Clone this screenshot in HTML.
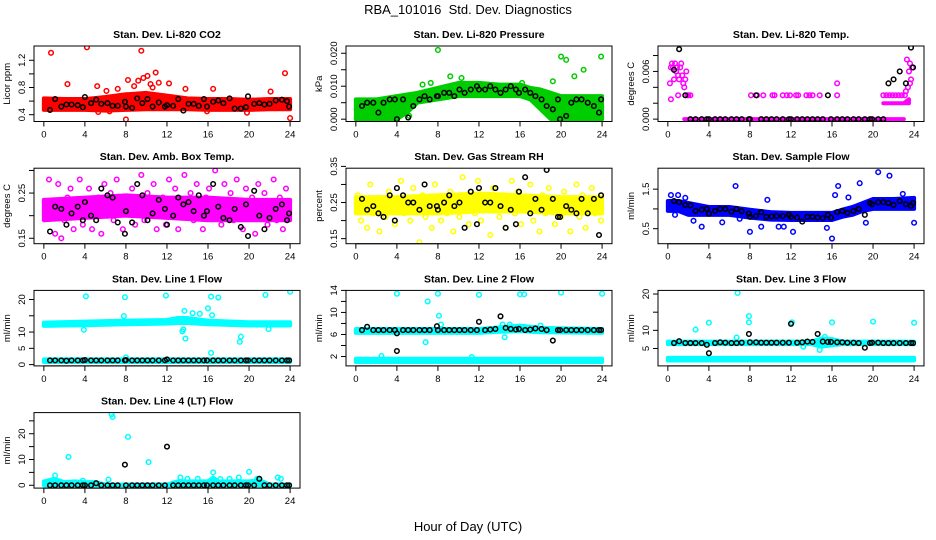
<!DOCTYPE html>
<html><head><meta charset="utf-8">
<style>
body{margin:0;background:#fff;}
svg{display:block;font-family:"Liberation Sans",sans-serif;}
</style></head>
<body>
<svg id="chart" width="936" height="540" viewBox="0 0 936 540" xmlns="http://www.w3.org/2000/svg">
<text x="468" y="14" text-anchor="middle" font-size="13">RBA_101016&#160; Std. Dev. Diagnostics</text>
<text x="468" y="531" text-anchor="middle" font-size="13">Hour of Day (UTC)</text>
</svg>
<script>
// shared hour stamps for black (hourly-average) points
const bx=[0.6,1.1,1.7,2.2,2.7,3.3,3.8,4.0,4.6,5.1,5.6,6.2,6.7,7.2,7.9,8.0,8.6,9.1,9.6,10.1,10.6,11.2,11.8,12.0,12.6,13.1,13.6,14.1,14.6,15.1,15.6,15.9,16.5,17.0,17.5,18.1,18.6,19.2,19.7,19.9,20.5,21.0,21.5,22.0,22.6,23.2,23.7,23.9];
const xTicks=[0,4,8,12,16,20,24];
const sx=[0.2,0.5,0.8,1.1,1.4,1.7,2.0,2.3,2.6,2.9,3.2,3.5,3.8,4.1,4.4,4.7,5.0,5.3,5.6,5.9,6.2,6.5,6.8,7.1,7.4,7.7,8.0,8.3,8.6,8.9,9.2,9.5,9.8,10.1,10.4,10.7,11.0,11.3,11.6,11.9,12.2,12.5,12.8,13.1,13.4,13.7,14.0,14.3,14.6,14.9,15.2,15.5,15.8,16.1,16.4,16.7,17.0,17.3,17.6,17.9,18.2,18.5,18.8,19.1,19.4,19.7,20.0,20.3,20.6,20.9,21.2,21.5,21.8,22.1,22.4,22.7,23.0,23.3,23.6,23.9];

// CO2
const co2BandH=[0,2,4,6,8,10,12,14,16,18,20,22,24];
const co2Lo=[0.47,0.47,0.47,0.46,0.47,0.48,0.48,0.48,0.47,0.47,0.47,0.48,0.48];
const co2Hi=[0.64,0.63,0.63,0.66,0.70,0.72,0.68,0.64,0.63,0.63,0.62,0.63,0.63];
const co2OX=[0.7,4.2,9.5,10.9,23.5,8,24,2.3,8.2,9.2,9.7,10.1,11.2,12.2,13.8,16.5,5.2,6.1,7.2,22.1,19.8,15.9,10.6,8.8,10.4,6.4,5.3];
const co2OY=[1.31,1.39,1.34,1.02,1.01,0.33,0.35,0.85,0.91,0.9,0.94,0.97,0.87,0.86,0.78,0.78,0.82,0.75,0.78,0.74,0.43,0.45,0.8,0.82,0.85,0.45,0.44];
const co2K=[0.47,0.63,0.52,0.55,0.55,0.54,0.51,0.66,0.57,0.62,0.56,0.57,0.53,0.53,0.59,0.52,0.50,0.64,0.57,0.63,0.52,0.58,0.52,0.54,0.53,0.63,0.46,0.56,0.56,0.53,0.63,0.52,0.59,0.61,0.57,0.64,0.49,0.49,0.51,0.67,0.56,0.57,0.55,0.56,0.61,0.62,0.60,0.52];

// Pressure
const prBandH=[0,2,4,5,6,8,10,12,14,16,17,18,19,20,22,24];
const prLo=[0,0,0,0.002,0.005,0.006,0.007,0.007,0.007,0.007,0.006,0.003,0,0,0,0];
const prHi=[0.006,0.006,0.007,0.0075,0.008,0.0095,0.011,0.011,0.0105,0.0105,0.0095,0.009,0.008,0.007,0.007,0.007];
const prOX=[8,20,20.5,23.9,22.2,21.3,19.2,9.2,10.3,6.5,7.3,16.2,3.2,5.2,1.3,22.8];
const prOY=[0.021,0.019,0.018,0.019,0.015,0.013,0.0115,0.013,0.0125,0.0105,0.011,0.011,0.003,0.001,0.002,0.003];
const prK=[0.004,0.005,0.005,0.002,0.005,0.006,0.006,0.000,0.006,0.0005,0.004,0.006,0.007,0.006,0.007,0.007,0.008,0.008,0.007,0.009,0.008,0.009,0.010,0.009,0.009,0.010,0.009,0.008,0.009,0.010,0.009,0.008,0.009,0.008,0.007,0.006,0.004,0.003,0.006,0.000,0.001,0.005,0.006,0.006,0.005,0.004,0.002,0.006];

// Temp
const tpBandH=[1.6,23.0];
const tpLo=[0,0];
const tpHi=[0,0];
const tpBand2H=[21,22,23,23.5];
const tpLo2=[0.002,0.002,0.002,0.002];
const tpHi2=[0.002,0.002,0.002,0.0025];
const tpOX=[0.2,0.3,0.4,0.5,0.6,0.7,0.8,0.9,1.0,1.1,1.2,1.3,1.4,1.5,1.6,1.7,1.8,1.9,0.3,1.0,2.0,2.2,8.1,8.7,9.3,10.2,10.4,11.2,11.6,11.9,12.5,12.7,13.5,13.8,14.1,14.8,16.5,16.5,23.3,23.6,21.0,21.3,21.6,21.9,22.2,22.5,22.8,23.1,23.4,23.7,23.5,23.8,23.2,23.6];
const tpOY=[0.0045,0.0065,0.007,0.0065,0.005,0.007,0.006,0.0065,0.0055,0.005,0.0065,0.007,0.0055,0.0045,0.004,0.005,0.006,0.003,0.0025,0.003,0.003,0.003,0.003,0.003,0.003,0.003,0.003,0.003,0.003,0.003,0.003,0.003,0.003,0.003,0.003,0.003,0.0045,0.003,0.0075,0.007,0.003,0.003,0.003,0.003,0.003,0.003,0.003,0.003,0.004,0.005,0.006,0.0065,0.0035,0.0045];
const tpK=[0.0062,0.0088,0.003,0,0,0,0,0,0,0,0,0,0,0,0,0,0.003,0,0,0,0,0,0,0,0,0,0,0,0,0,0.003,0,0,0,0,0,0,0,0,0,0,0,0.0045,0.005,0.006,0.0045,0.009,0.0065];

// Amb box temp
const amBandH=[0,4,8,12,16,20,24];
const amLo=[0.19,0.195,0.2,0.195,0.19,0.19,0.19];
const amHi=[0.235,0.24,0.245,0.24,0.24,0.235,0.235];
const amY=[0.2,0.28,0.23,0.16,0.27,0.15,0.19,0.24,0.26,0.17,0.22,0.28,0.18,0.23,0.26,0.17,0.21,0.24,0.16,0.27,0.2,0.25,0.19,0.28,0.22,0.17,0.24,0.21,0.26,0.18,0.23,0.29,0.19,0.25,0.2,0.27,0.17,0.22,0.24,0.18,0.28,0.21,0.26,0.17,0.23,0.29,0.2,0.25,0.19,0.27,0.22,0.17,0.24,0.26,0.2,0.3,0.23,0.18,0.27,0.21,0.25,0.19,0.28,0.22,0.17,0.26,0.2,0.24,0.16,0.27,0.21,0.25,0.18,0.23,0.28,0.19,0.24,0.17,0.26,0.21];
const amK=[0.165,0.22,0.215,0.18,0.205,0.22,0.19,0.23,0.2,0.19,0.26,0.245,0.24,0.185,0.16,0.21,0.185,0.27,0.245,0.19,0.205,0.235,0.215,0.18,0.2,0.24,0.225,0.23,0.21,0.245,0.2,0.21,0.27,0.22,0.195,0.19,0.215,0.175,0.225,0.155,0.255,0.2,0.17,0.195,0.215,0.225,0.19,0.205];

// RH
const rhBandH=[0,4,8,12,16,20,24];
const rhLo=[0.22,0.22,0.22,0.225,0.225,0.22,0.22];
const rhHi=[0.265,0.265,0.27,0.275,0.27,0.265,0.265];
const rhY=[0.27,0.2,0.24,0.18,0.3,0.22,0.26,0.17,0.25,0.21,0.28,0.23,0.19,0.26,0.31,0.22,0.25,0.2,0.29,0.24,0.14,0.27,0.21,0.25,0.18,0.3,0.23,0.2,0.26,0.22,0.28,0.17,0.25,0.21,0.32,0.24,0.19,0.27,0.22,0.31,0.2,0.26,0.23,0.16,0.29,0.24,0.21,0.27,0.18,0.25,0.31,0.22,0.28,0.19,0.26,0.23,0.3,0.2,0.25,0.17,0.27,0.22,0.29,0.24,0.19,0.26,0.21,0.28,0.23,0.17,0.25,0.3,0.21,0.27,0.18,0.24,0.29,0.22,0.26,0.2];
const rhK=[0.26,0.23,0.24,0.22,0.21,0.27,0.20,0.29,0.27,0.25,0.25,0.23,0.30,0.24,0.24,0.23,0.25,0.27,0.24,0.25,0.18,0.28,0.19,0.29,0.25,0.25,0.29,0.24,0.18,0.23,0.19,0.28,0.32,0.22,0.26,0.23,0.34,0.26,0.21,0.21,0.24,0.23,0.22,0.26,0.22,0.26,0.16,0.27];

// Sample flow
const sfBandH=[0,1,2,4,6,8,10,12,14,16,17,18,19,20,22,24];
const sfLo=[0.95,0.95,0.85,0.85,0.85,0.78,0.73,0.72,0.72,0.72,0.8,0.85,0.95,1.0,1.0,1.0];
const sfHi=[1.2,1.2,1.15,1.05,1.05,0.98,0.92,0.90,0.90,0.90,0.98,1.05,1.15,1.25,1.25,1.28];
const sfOX=[6.6,8,9.7,12.2,16,16.6,16.3,17.6,18.7,20.5,21.6,24,3.3,5.3,9.1,11.3,10.8,15.5,19.3,0.3,1.0,1.7,22.9,0.7,2.5,7.0];
const sfOY=[1.58,0.42,1.23,0.42,0.25,1.58,1.35,1.29,1.65,1.93,1.84,0.65,0.55,0.66,0.55,0.55,0.55,0.52,0.65,1.35,1.35,1.28,1.38,0.85,0.7,0.75];
const sfK=[1.2,1.17,1.1,1.09,0.95,0.98,1.0,0.88,0.95,1.0,1.0,0.93,1.0,0.94,0.88,0.80,0.82,0.92,0.80,0.81,0.82,0.82,0.85,0.80,0.78,0.68,0.80,0.80,0.78,0.77,0.85,0.78,0.92,0.95,0.90,0.95,1.0,0.85,1.15,1.12,1.17,1.17,1.15,1.10,1.20,1.12,1.08,1.15];

// Line 1
const l1BandH=[0,4,8,12,13,14,16,20,24];
const l1Lo=[11.9,12.1,12.4,12.6,12.8,12.8,12.4,12.0,12.0];
const l1Hi=[12.9,13.2,13.5,13.7,14.3,14.3,13.5,13.0,13.0];
const l1Band2H=[0,24];
const l1Lo2=[0.8,0.8];
const l1Hi2=[1.6,1.6];
const l1OX=[4.1,7.9,11.9,16.3,17.0,21.6,24,3.9,13.5,13.6,13.8,13.7,14.5,15.2,16.0,16.4,19.2,19.1,21.9,16.3,7.8,8];
const l1OY=[21,20.7,21.2,20.9,20.6,21.4,22.4,10.7,10.2,10.8,8.0,16.5,15.8,15.6,17.3,15.2,8.6,7.0,10.9,3.6,14.9,2.2];
const l1K=[1.3,1.3,1.3,1.2,1.3,1.3,1.3,1.4,1.3,1.3,1.3,1.3,1.3,1.3,1.3,1.4,1.3,1.3,1.3,1.3,1.3,1.3,1.3,1.6,1.3,1.3,1.3,1.3,1.3,1.3,1.3,1.3,1.3,1.3,1.3,1.3,1.3,1.3,1.3,1.3,1.3,1.3,1.3,1.3,1.3,1.3,1.3,1.3];

// Line 2
const l2BandH=[0,12,14,16,18,24];
const l2Lo=[6.3,6.3,6.5,6.6,6.4,6.3];
const l2Hi=[7.0,7.0,7.3,7.6,7.2,7.0];
const l2Band2H=[0,24];
const l2Lo2=[1.0,1.0];
const l2Hi2=[1.6,1.6];
const l2OX=[4,8,12,16,16.4,20,24,7,8.1,8.3,6.8,14.5,14.3,15.0,18.0,2.5,11.3];
const l2OY=[13.4,13.4,13.2,13.3,13.3,13.6,13.4,12.0,9.4,7.8,4.6,5.5,7.8,7.8,7.6,2.1,1.9];
const l2K=[6.8,7.4,6.8,6.8,6.8,6.8,6.8,6.2,6.8,6.8,6.8,6.8,6.8,6.8,7.5,6.8,6.8,6.8,6.8,6.8,6.8,6.8,6.8,8.3,6.8,6.9,7.0,9.3,7.2,7.0,6.9,7.0,6.8,6.9,7.1,7.0,6.8,4.9,6.8,6.8,6.8,6.8,6.8,6.8,6.8,6.8,6.8,6.8];

// Line 3
const l3BandH=[0,14,15,16,17,24];
const l3Lo=[6.2,6.2,5.5,5.9,6.2,6.2];
const l3Hi=[6.9,6.9,7.8,7.6,6.9,6.9];
const l3Band2H=[0,24];
const l3Lo2=[1.7,1.7];
const l3Hi2=[2.4,2.4];
const l3OX=[6.8,7.9,7.9,4,2.7,12.1,16,20,24,6.7,15.3,14.8,13.2];
const l3OY=[20.3,13.9,12.2,12.1,10.2,12.2,12.2,12.4,12.1,8.0,8.2,4.6,5.5];
const l3K=[6.5,7.0,6.5,6.5,6.5,6.5,6.0,3.7,6.5,6.7,6.6,6.5,6.5,6.6,9.0,6.7,6.7,6.6,6.6,6.6,6.6,6.6,6.6,11.8,6.6,6.7,6.9,6.8,9.0,6.9,6.8,6.8,6.7,6.7,6.6,6.6,6.5,5.2,6.5,6.6,6.6,6.5,6.5,6.5,6.5,6.5,6.5,6.5];

// Line 4
const l4BandH=[0,1,2,3,4,5,6,12,13,14,16,16.5,17,20,21,22,24];
const l4Lo=[0,0,0,0,0,0,0,0,0,0,0,0,0,0,0,0,0];
const l4Hi=[1.5,2.5,1.2,1.5,1.2,1.2,0.3,0.3,1.5,1.5,1.5,3,1.5,1.5,2,0.3,0.3];
const l4OX=[6.6,6.7,8.2,2.4,10.2,16.5,20,1.1,13.3,14,15,17.2,18.1,19,22.8,23.1,6.3,3.8,20.8];
const l4OY=[27.5,26.5,18.8,11,9,5,5.2,3.8,3,2.5,2.5,2.4,2.5,3,3,2.5,2.2,1.8,2.5];
const l4K=[0,0,0,0,0,0,0,0,0,0.8,0,0,0,0,8,0,0,0,0,0,0,0,0,15,0,0,0,0,0,0,0,0,0,0,0,0,0,0,0,0,0,2.5,0,0,0,0,0,0];

const panels=[
 {name:'co2',title:'Stan. Dev. Li-820 CO2',ylab:'Licor ppm',col:0,row:0,ylim:[0.30,1.41],ticks:[0.4,0.6,0.8,1.0,1.2],labels:['0.4','','0.8','','1.2'],color:'#ff0000',bands:[[co2BandH,co2Lo,co2Hi]],ox:co2OX,oy:co2OY,k:co2K},
 {name:'pressure',title:'Stan. Dev. Li-820 Pressure',ylab:'kPa',col:1,row:0,ylim:[-0.0007,0.0222],ticks:[0,0.005,0.01,0.015,0.02],labels:['0.000','','0.010','','0.020'],color:'#00cd00',bands:[[prBandH,prLo,prHi]],ox:prOX,oy:prOY,k:prK},
 {name:'temp',title:'Stan. Dev. Li-820 Temp.',ylab:'degrees C',col:2,row:0,ylim:[-0.0003,0.0092],ticks:[0,0.002,0.004,0.006,0.008],labels:['0.000','','','0.006',''],color:'#ff00ff',bands:[[tpBandH,tpLo,tpHi],[tpBand2H,tpLo2,tpHi2]],ox:tpOX,oy:tpOY,k:tpK},
 {name:'amb-box-temp',title:'Stan. Dev. Amb. Box Temp.',ylab:'degrees C',col:0,row:1,ylim:[0.138,0.305],ticks:[0.15,0.2,0.25,0.3],labels:['0.15','','0.25',''],color:'#ff00ff',bands:[[amBandH,amLo,amHi]],ox:sx,oy:amY,k:amK},
 {name:'gas-rh',title:'Stan. Dev. Gas Stream RH',ylab:'percent',col:1,row:1,ylim:[0.136,0.345],ticks:[0.15,0.2,0.25,0.3,0.35],labels:['0.15','','0.25','','0.35'],color:'#ffff00',bands:[[rhBandH,rhLo,rhHi]],ox:sx,oy:rhY,k:rhK},
 {name:'sample-flow',title:'Stan. Dev. Sample Flow',ylab:'ml/min',col:2,row:1,ylim:[0.12,2.03],ticks:[0.5,1.0,1.5],labels:['0.5','','1.5'],color:'#0000ff',bands:[[sfBandH,sfLo,sfHi]],ox:sfOX,oy:sfOY,k:sfK},
 {name:'line1-flow',title:'Stan. Dev. Line 1 Flow',ylab:'ml/min',col:0,row:2,ylim:[-0.4,22.8],ticks:[0,5,10,15,20],labels:['0','5','10','','20'],color:'#00ffff',bands:[[l1BandH,l1Lo,l1Hi],[l1Band2H,l1Lo2,l1Hi2]],ox:l1OX,oy:l1OY,k:l1K},
 {name:'line2-flow',title:'Stan. Dev. Line 2 Flow',ylab:'ml/min',col:1,row:2,ylim:[0.3,14.0],ticks:[2,4,6,8,10,12,14],labels:['2','','6','','10','','14'],color:'#00ffff',bands:[[l2BandH,l2Lo,l2Hi],[l2Band2H,l2Lo2,l2Hi2]],ox:l2OX,oy:l2OY,k:l2K,kx2:[4],ky2:[3.0]},
 {name:'line3-flow',title:'Stan. Dev. Line 3 Flow',ylab:'ml/min',col:2,row:2,ylim:[0.2,21],ticks:[5,10,15,20],labels:['5','10','','20'],color:'#00ffff',bands:[[l3BandH,l3Lo,l3Hi],[l3Band2H,l3Lo2,l3Hi2]],ox:l3OX,oy:l3OY,k:l3K},
 {name:'line4-flow',title:'Stan. Dev. Line 4 (LT) Flow',ylab:'ml/min',col:0,row:3,ylim:[-1.1,28.2],ticks:[0,5,10,15,20,25],labels:['0','','10','','20',''],color:'#00ffff',bands:[[l4BandH,l4Lo,l4Hi]],ox:l4OX,oy:l4OY,k:l4K}
];

const NS='http://www.w3.org/2000/svg';
const svg=document.getElementById('chart');
function mk(tag,attrs,parent){const e=document.createElementNS(NS,tag);for(const k in attrs)e.setAttribute(k,attrs[k]);parent.appendChild(e);return e;}

panels.forEach(p=>{
  const L=34+p.col*312, T=46+p.row*122.2, W=266, H=75.5;
  const xs=v=>L+9.85+v*10.26;
  const ys=v=>T+H-(v-p.ylim[0])/(p.ylim[1]-p.ylim[0])*H;
  const g=mk('g',{},svg);
  
  
  const t=mk('text',{x:L+W/2,y:T-8,'text-anchor':'middle','font-size':'10.5','font-weight':'bold'},g);
  
  
  t.textContent=p.title;
  const yl=mk('text',{transform:`translate(${L-24},${T+H/2}) rotate(-90)`,'text-anchor':'middle','font-size':'9.5'},g);
  
  
  yl.textContent=p.ylab;
  const clip='clip-'+p.name;
  const cp=mk('clipPath',{id:clip},g);mk('rect',{x:L,y:T,width:W,height:H},cp);
  const mg=mk('g',{'clip-path':`url(#${clip})`},g);
  p.bands.forEach(b=>{
    const [hx,lo,hi]=b;
    let pts=[];
    hx.forEach((h,i)=>pts.push(xs(h)+','+ys(hi[i])));
    for(let i=hx.length-1;i>=0;i--)pts.push(xs(hx[i])+','+ys(lo[i]));
    const pg=mk('polygon',{points:pts.join(' '),fill:p.color,stroke:p.color,'stroke-width':4,'stroke-linejoin':'round'},mg);
    
    
  });
  p.ox.forEach((x,i)=>{
    const c=mk('circle',{cx:xs(x),cy:ys(p.oy[i]),r:2.3,fill:'none',stroke:p.color,'stroke-width':1.5},mg);
    
    
  });
  bx.forEach((x,i)=>{
    const c=mk('circle',{cx:xs(x),cy:ys(p.k[i]),r:2.3,fill:'none',stroke:'#000','stroke-width':1.5},mg);
    
    
  });
  (p.kx2||[]).forEach((x,i)=>{
    const c=mk('circle',{cx:xs(x),cy:ys(p.ky2[i]),r:2.3,fill:'none',stroke:'#000','stroke-width':1.5},mg);
    
    
  });
  const box=mk('rect',{x:L,y:T,width:W,height:H,fill:'none',stroke:'#000','stroke-width':1},g);
  
  
  mk('line',{x1:xs(0),x2:xs(24),y1:T+H,y2:T+H,stroke:'#000'},g);
  xTicks.forEach(v=>{
    mk('line',{x1:xs(v),x2:xs(v),y1:T+H,y2:T+H+5,stroke:'#000'},g);
    const tl=mk('text',{x:xs(v),y:T+H+16,'text-anchor':'middle','font-size':'9.5'},g);
    
    
    tl.textContent=v;
  });
  p.ticks.forEach((v,i)=>{
    mk('line',{x1:L-5,x2:L,y1:ys(v),y2:ys(v),stroke:'#000'},g);
    if(p.labels[i]){
      const tl=mk('text',{transform:`translate(${L-9},${ys(v)}) rotate(-90)`,'text-anchor':'middle','font-size':'9.5'},g);
      
      
      tl.textContent=p.labels[i];
    }
  });
});
</script>
</body></html>
